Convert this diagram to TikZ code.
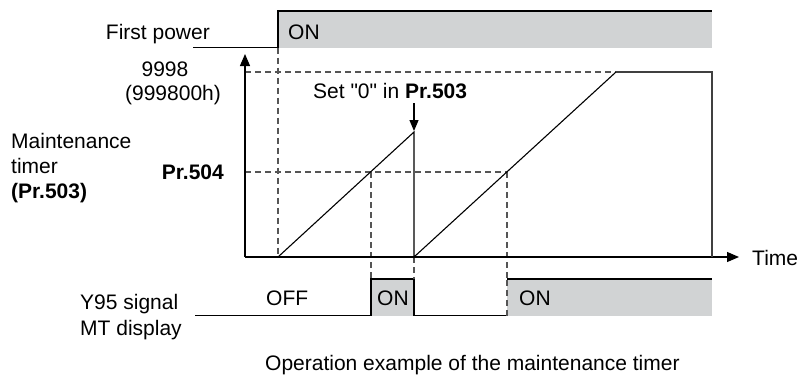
\documentclass[tikz,border=0pt]{standalone}
\usepackage{fontspec}
\setmainfont{Liberation Sans}[Ligatures=TeXOff]
\usetikzlibrary{arrows.meta}
\definecolor{sigfill}{RGB}{209,211,212}
\definecolor{dashgray}{RGB}{85,85,85}
\begin{document}
\begin{tikzpicture}[x=1pt,y=-1pt,
  font=\fontsize{21}{25}\selectfont,
  wave/.style={draw=black,line width=1.1pt,line join=miter},
  guide/.style={draw=dashgray,line width=1.15pt,dash pattern=on 6pt off 4pt},
  sigbox/.style={fill=sigfill,draw=none},
  axis/.style={draw=black,line width=1.2pt,-{Triangle[length=12pt,width=10pt]}},
  lbl/.style={inner sep=0pt,anchor=base west},
  lblr/.style={inner sep=0pt,anchor=base east},
  lblc/.style={inner sep=0pt,anchor=base}]
\useasboundingbox (0,0) rectangle (798,376);

% coordinates
\coordinate (O) at (245,257);
\coordinate (ytip) at (245,54);
\coordinate (xtip) at (739,257);
\coordinate (p0) at (278,257);
\coordinate (peak) at (414,132);
\coordinate (r0) at (414,257);
\coordinate (sat) at (616,72);
\coordinate (satend) at (712,72);
\coordinate (endb) at (712,257);

% First power signal
\fill[sigbox] (278,11) rectangle (712,47.5);
\draw[wave] (193,47.5) -- (278,47.5) -- (278,11) -- (712,11);

% Y95 signal
\fill[sigbox] (371,279) rectangle (414,315.7);
\fill[sigbox] (507,279) rectangle (712,315.7);
\draw[wave] (195,315.7) -- (371,315.7) -- (371,279) -- (414,279) -- (414,315.7) -- (507,315.7);
\draw[guide] (507,315.7) -- (507,279);
\draw[wave] (507,279) -- (712,279);

% guide lines
\draw[guide] (245,72) -- (sat);
\draw[guide] (245,172) -- (507,172);
\draw[guide] (278,47.5) -- (p0);
\draw[guide] (371,172) -- (371,279);
\draw[guide] (r0) -- (414,279);
\draw[guide] (507,172) -- (507,279);

% axes
\draw[axis] (O) -- (ytip);
\draw[axis] (O) -- (xtip);

% timer curve
\draw[wave] (p0) -- (peak) -- (r0) -- (sat);
\draw[wave,draw=black!75] (sat) -- (satend) -- (endb);

% set arrow
\coordinate (setfrom) at (414,103);
\draw[line width=1.2pt,-{Triangle[length=11pt,width=9pt]}] (setfrom) -- (414,131);

% labels
\node[lblr] (fp) at (210,39) {First power};
\node[lbl] (on1) at (288,39) {ON};
\node[lblc] (v9998) at (165,76) {9998};
\node[lblc] (vh) at (173,100) {(999800h)};
\node[lbl] (mt1) at (11,148) {Maintenance};
\node[lbl] (mt2) at (11,173) {timer};
\node[lbl] (mt3) at (11,198) {\bfseries (Pr.503)};
\node[lblr] (p504) at (224,179) {\bfseries Pr.504};
\node[lbl] (setl) at (313,98) {Set "0" in \textbf{Pr.503}};
\node[lbl] (time) at (752,265) {Time};
\node[lbl] (y95a) at (80,309) {Y95 signal};
\node[lbl] (y95b) at (80,335) {MT display};
\node[lbl] (off) at (266,305) {OFF};
\node[lbl] (on2) at (377,305) {ON};
\node[lbl] (on3) at (519,305) {ON};
\node[lbl] (cap) at (265,370) {Operation example of the maintenance timer};
\end{tikzpicture}
\end{document}
